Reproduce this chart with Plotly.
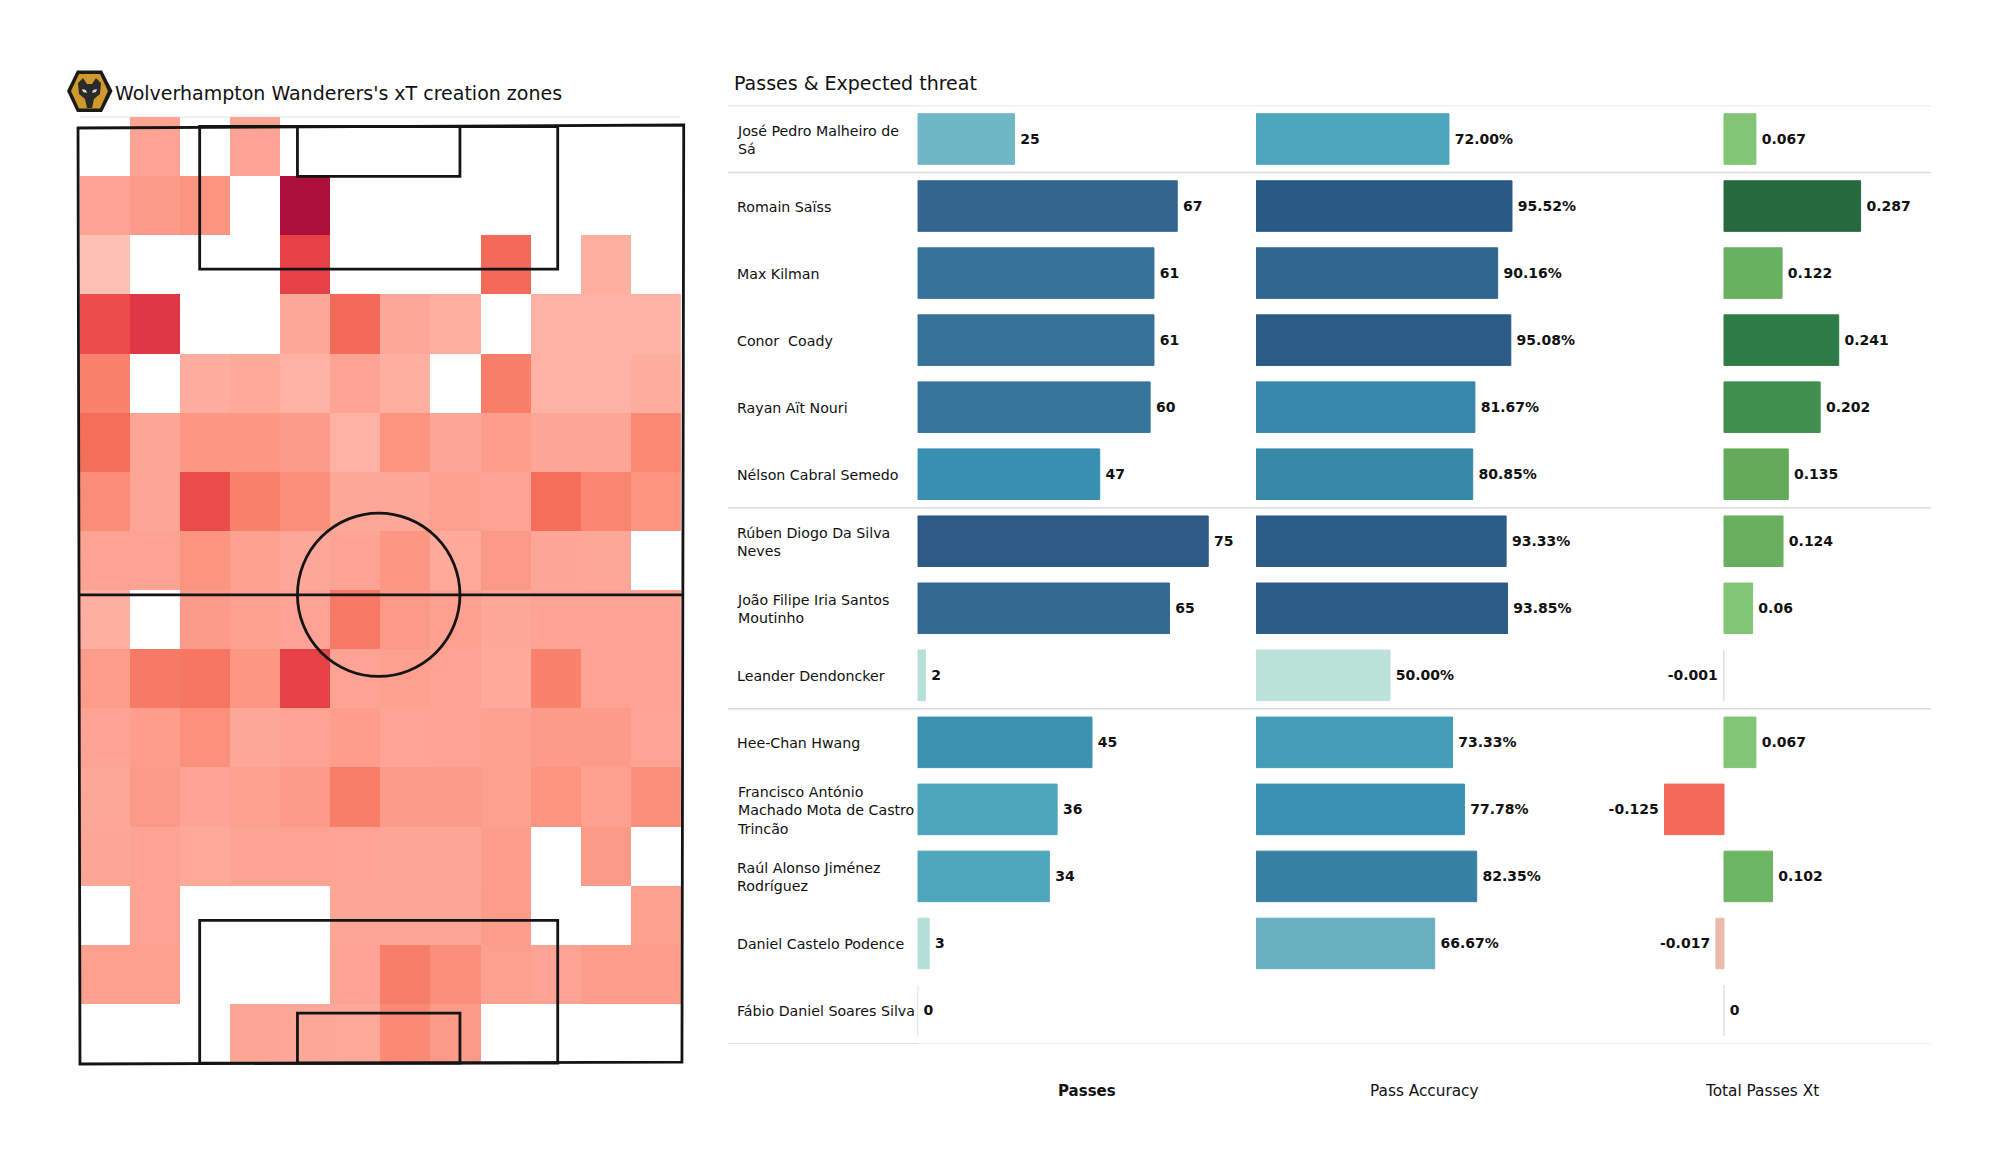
import plotly.graph_objects as go

W, H = 2000, 1175

# ---------- data ----------
players = ["José Pedro Malheiro de<br>Sá", "Romain Saïss", "Max Kilman", "Conor  Coady", "Rayan Aït Nouri",
           "Nélson Cabral Semedo", "Rúben Diogo Da Silva<br>Neves", "João Filipe Iria Santos<br>Moutinho",
           "Leander Dendoncker", "Hee-Chan Hwang", "Francisco António<br>Machado Mota de Castro<br>Trincão",
           "Raúl Alonso Jiménez<br>Rodríguez", "Daniel Castelo Podence", "Fábio Daniel Soares Silva"]
passes = [25, 67, 61, 61, 60, 47, 75, 65, 2, 45, 36, 34, 3, 0]
accuracy = [72.00, 95.52, 90.16, 95.08, 81.67, 80.85, 93.33, 93.85, 50.00, 73.33, 77.78, 82.35, 66.67, None]
xt = [0.067, 0.287, 0.122, 0.241, 0.202, 0.135, 0.124, 0.06, -0.001, 0.067, -0.125, 0.102, -0.017, 0]
group_breaks = [0.5, 5.5, 8.5]
column_titles = ["Passes", "Pass Accuracy", "Total Passes Xt"]

n = None
zones = [
    [n, .20, n, .20, n, n, n, n, n, n, n, n],
    [.20, .25, .30, n, 1.0, n, n, n, n, n, n, n],
    [.00, n, n, n, .72, n, n, n, .52, n, .12, n],
    [.66, .78, n, n, .17, .52, .17, .12, n, .10, .10, .10],
    [.40, n, .13, .15, .10, .20, .12, n, .42, .10, .10, .13],
    [.50, .18, .28, .28, .25, .10, .30, .18, .23, .18, .18, .37],
    [.35, .18, .66, .40, .33, .17, .17, .22, .20, .50, .38, .30],
    [.20, .20, .30, .22, .17, .20, .28, .15, .27, .18, .17, n],
    [.12, n, .25, .22, .20, .45, .27, .22, .17, .20, .20, .20],
    [.24, .44, .46, .28, .72, .20, .22, .20, .15, .40, .20, .20],
    [.20, .23, .32, .17, .20, .23, .19, .20, .22, .25, .25, .19],
    [.17, .26, .20, .22, .25, .42, .25, .25, .22, .30, .22, .33],
    [.18, .20, .16, .20, .20, .19, .18, .18, .23, n, .26, n],
    [n, .20, n, n, n, .18, .18, .18, .24, n, n, .22],
    [.22, .22, n, n, n, .20, .42, .33, .22, .20, .24, .24],
    [n, n, n, .18, .17, .16, .36, .26, n, n, n, n],
]

# ---------- colour scales ----------
zone_scale = [[0, "#ffc0b4"], [.2, "#fda393"], [.35, "#fb8c77"], [.5, "#f56e5a"],
              [.7, "#e84548"], [.8, "#dd3344"], [1, "#ac0f3a"]]
pass_scale = [[0, "#bfe5db"], [.04, "#b4dfd7"], [.333, "#6fb7c4"], [.453, "#4ea7bb"], [.48, "#4ba5bb"],
              [.6, "#3c90b0"], [.627, "#398fb0"], [.8, "#36749b"], [.893, "#33658e"], [1, "#2c5985"]]
acc_scale = [[0, "#bce3d9"], [.366, "#66b0bf"], [.483, "#4ba5bc"], [.513, "#449eb7"], [.61, "#3a90b0"],
             [.678, "#3688a9"], [.7, "#3585a8"], [.71, "#3580a3"], [.88, "#306590"], [.95, "#2c5c88"],
             [1, "#2b5985"]]
xt_scale = [[0, "#f4695a"], [.262, "#ecb9ab"], [.303, "#dfe3dc"], [.449, "#82c574"], [.466, "#82c574"],
            [.551, "#6cb663"], [.604, "#68b05f"], [.631, "#63ab5a"], [.794, "#3f8f4f"], [.888, "#2d7c45"],
            [1, "#26693f"]]

FONT = "DejaVu Sans"
INK = "#111111"


def px(x):
    return x / W


def py(y):
    return 1 - y / H


# ---------- pitch geometry in pitch units ----------
PX_PER_M_X, PX_PER_M_Y = 8.88, 8.92
PITCH_LEFT_PX, PITCH_TOP_PX = 79, 126.5
MID_X, PITCH_W, PITCH_L = 33.75, 68, 105
BOX_W, BOX_D, SIX_W, SIX_D, CIRCLE_R = 40.32, 16, 18.3, 5.6, 9.15
CELL_W, CELL_H = 5.64, 6.63
CELL_X0, CELL_Y0 = 0.1, -1.06

fig = go.Figure()
fig.add_trace(go.Heatmap(
    z=zones, x0=CELL_X0 + CELL_W / 2, dx=CELL_W, y0=CELL_Y0 + CELL_H / 2, dy=CELL_H,
    colorscale=zone_scale, zmin=0, zmax=1, showscale=False, hoverongaps=False,
    xaxis="x", yaxis="y"))

dom_l, dom_r, dom_t, dom_b = 68, 695, 110, 1075
xaxis_pitch = dict(domain=[px(dom_l), px(dom_r)], visible=False, anchor="y",
                   range=[(dom_l - PITCH_LEFT_PX) / PX_PER_M_X, (dom_r - PITCH_LEFT_PX) / PX_PER_M_X])
yaxis_pitch = dict(domain=[py(dom_b), py(dom_t)], visible=False, anchor="x",
                   range=[(dom_b - PITCH_TOP_PX) / PX_PER_M_Y, (dom_t - PITCH_TOP_PX) / PX_PER_M_Y])

shapes = []
pitch_line = dict(color="#141414", width=2.8)


def pitch_shape(**kw):
    shapes.append(dict(xref="x", yref="y", line=pitch_line, layer="above", **kw))


pitch_shape(type="path", path="M -0.11 0.17 L 68.1 -0.17 L 67.9 104.9 L 0.11 105.1 Z")
pitch_shape(type="line", x0=0, x1=PITCH_W, y0=PITCH_L / 2, y1=PITCH_L / 2)
pitch_shape(type="circle", x0=MID_X - CIRCLE_R, x1=MID_X + CIRCLE_R,
            y0=PITCH_L / 2 - CIRCLE_R, y1=PITCH_L / 2 + CIRCLE_R)
for (edge, sign) in ((0, 1), (PITCH_L, -1)):
    pitch_shape(type="rect", x0=MID_X - BOX_W / 2, x1=MID_X + BOX_W / 2, y0=edge, y1=edge + sign * BOX_D)
    pitch_shape(type="rect", x0=MID_X - SIX_W / 2, x1=MID_X + SIX_W / 2, y0=edge, y1=edge + sign * SIX_D)

# thin rule over the heat map
shapes.append(dict(type="line", xref="paper", yref="paper", x0=px(80), x1=px(680), y0=py(117), y1=py(117),
                   line=dict(color="#ececec", width=1.5), layer="below"))


# ---------- club badge ----------
def poly(points, fill, line=None):
    path = "M " + " L ".join(f"{px(a):.5f} {py(b):.5f}" for a, b in points) + " Z"
    shapes.append(dict(type="path", xref="paper", yref="paper", path=path, fillcolor=fill,
                       line=dict(width=0) if line is None else line, layer="above"))


poly([(67, 91), (77, 70.5), (102, 70.5), (112.5, 91), (102, 112), (77, 112)], "#1a1a18")
poly([(71, 91), (79, 74), (100, 74), (108, 91), (100, 108.5), (79, 108.5)], "#cf9a2b")
poly([(78, 83), (83, 78), (87, 84), (92, 84), (96, 78), (101, 83), (100, 94), (94, 99), (92, 108), (87, 108),
      (85, 99), (79, 94)], "#2a2a28")
poly([(82, 89), (86, 90), (87, 93), (83, 92)], "#d8d8d0")
poly([(97, 89), (93, 90), (92, 93), (96, 92)], "#d8d8d0")

# ---------- bar panels ----------
ROW_TOP_PX, ROW_BOTTOM_PX = 105.5, 1044
yaxis_rows = dict(domain=[py(ROW_BOTTOM_PX), py(ROW_TOP_PX)], visible=False, type="category",
                  categoryorder="array", categoryarray=players, range=[len(players) - 0.5, -0.5], anchor="x2")
BAR_W = 0.754


def panel_axis(zero_px, px_per_unit, left_px, right_px, anchor="y2"):
    return dict(domain=[px(left_px), px(right_px)], visible=False, anchor=anchor,
                range=[(left_px - zero_px) / px_per_unit, (right_px - zero_px) / px_per_unit])


xaxis_passes = panel_axis(917.6, 3.875, 917.6, 1250)
xaxis_acc = panel_axis(1256, 2.68, 1256, 1640)
xaxis_xt = panel_axis(1724, 476, 1590, 1935)


def label(text, value):
    # a thin space widens the gap between a bar and its outside label
    if value is not None and value < 0:
        return text + "\u2009"
    return "\u2009" + text


def add_bars(values, labels, scale, cmin, cmax, xa):
    colours = [cmin if v is None else v for v in values]
    fig.add_trace(go.Bar(
        y=players, x=values, orientation="h", width=BAR_W, xaxis=xa, yaxis="y2",
        marker=dict(color=colours, colorscale=scale, cmin=cmin, cmax=cmax,
                    line=dict(color=colours, colorscale=scale, cmin=cmin, cmax=cmax, width=1)),
        text=labels, textposition="outside", cliponaxis=False, constraintext="none",
        textfont=dict(family=FONT, size=14, color=INK, weight="bold"), showlegend=False))


add_bars(passes, [label(str(v), v) for v in passes], pass_scale, 0, 75, "x2")
add_bars(accuracy, ["" if v is None else label(f"{v:.2f}%", v) for v in accuracy], acc_scale, 50, 95.52, "x3")
add_bars(xt, [label(str(v), v) for v in xt], xt_scale, -0.125, 0.287, "x4")

# separators
for pos, dark, light in [(-0.5, "#d6d6d6", "#e2e2e2"), (group_breaks[0], "#dcdcdc", "#dcdcdc"),
                         (group_breaks[1], "#dcdcdc", "#dcdcdc"), (group_breaks[2], "#d8d8d8", "#dcdcdc"),
                         (len(players) - 0.5, "#d6d6d6", "#ebebeb")]:
    shapes.append(dict(type="line", xref="paper", yref="y2", x0=px(728), x1=px(918), y0=pos, y1=pos,
                       line=dict(color=dark, width=1.6), layer="below"))
    shapes.append(dict(type="line", xref="paper", yref="y2", x0=px(918), x1=px(1931), y0=pos, y1=pos,
                       line=dict(color=light, width=1.4), layer="below"))

# ---------- text ----------
annotations = []
for name in players:
    annotations.append(dict(text=name, xref="paper", yref="y2", x=px(734.5), y=name, xanchor="left", yanchor="middle",
                            yshift=-0.8, align="left", showarrow=False, font=dict(family=FONT, size=14.2, color=INK)))


def paper_text(text, x, y, size, anchor="left", weight="normal"):
    annotations.append(dict(text=text, xref="paper", yref="paper", x=px(x), y=py(y), xanchor=anchor,
                            yanchor="middle", showarrow=False, font=dict(family=FONT, size=size, color=INK,
                                                                         weight=weight)))


paper_text("Wolverhampton Wanderers's xT creation zones", 112.5, 93, 19)
paper_text("Passes & Expected threat", 731.5, 83, 19)
paper_text(column_titles[0], 1086.5, 1091, 15, "center", "bold")
paper_text(column_titles[1], 1424, 1091, 15.3, "center")
paper_text(column_titles[2], 1762, 1091, 15.3, "center")

fig.update_layout(
    width=W, height=H, autosize=False, margin=dict(l=0, r=0, t=0, b=0),
    paper_bgcolor="white", plot_bgcolor="rgba(0,0,0,0)", showlegend=False,
    font=dict(family=FONT), barmode="overlay",
    xaxis=xaxis_pitch, yaxis=yaxis_pitch, xaxis2=xaxis_passes, yaxis2=yaxis_rows,
    xaxis3=xaxis_acc, xaxis4=xaxis_xt, shapes=shapes, annotations=annotations)

fig.write_html("out.html", post_script="document.body.style.margin='0';",
               config=dict(displayModeBar=False))
